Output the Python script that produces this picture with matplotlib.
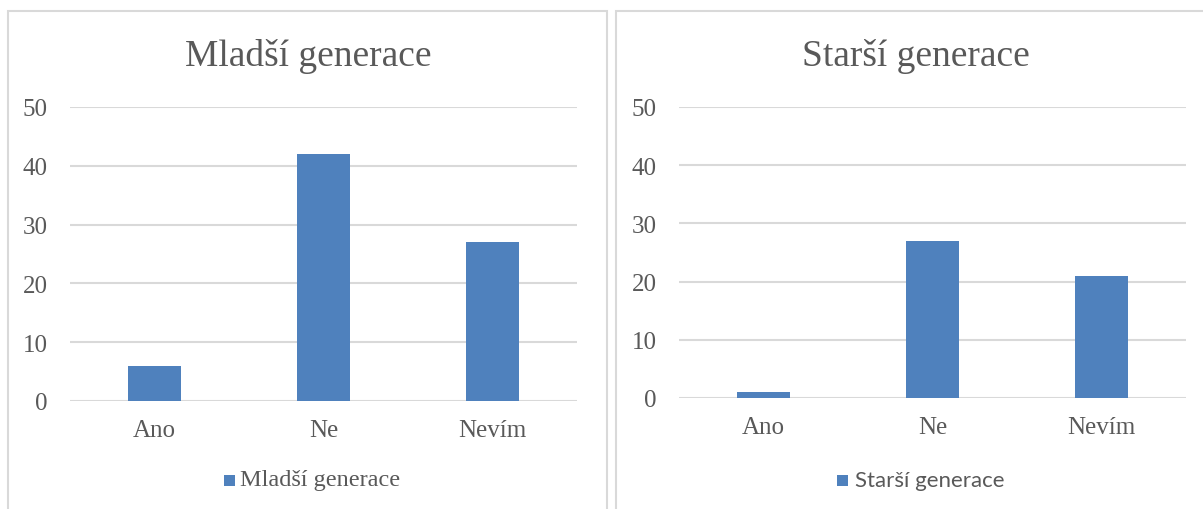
import matplotlib
matplotlib.use("Agg")
import matplotlib.pyplot as plt
from matplotlib.patches import Rectangle

plt.rcParams["font.family"] = "Liberation Serif"

categories = ["Ano", "Ne", "Nevím"]
mladsi = [6, 42, 27]
starsi = [1, 27, 21]
titles = ["Mladší generace", "Starší generace"]
y_ticks = [0, 10, 20, 30, 40, 50]

W, H = 1203, 510
BAR = "#4f81bd"
TEXT = "#595959"
GRID = "#d9d9d9"

fig = plt.figure(figsize=(W / 100, H / 100), dpi=100)
fig.patch.set_facecolor("white")


def px_axes(x0, y0, x1, y1):
    """Axes placed by pixel box (top-left origin)."""
    return fig.add_axes([x0 / W, 1 - y1 / H, (x1 - x0) / W, (y1 - y0) / H])


# panel frames
for (x0, y0, x1, y1) in [(8, 12, 607, 520), (616, 12, 1215, 520)]:
    fig.patches.append(Rectangle((x0 / W, 1 - y1 / H), (x1 - x0) / W, (y1 - y0) / H,
                                 transform=fig.transFigure, fill=False,
                                 edgecolor=GRID, linewidth=1.5))

panels = [
    dict(box=(70, 108, 577, 402), values=mladsi, title=titles[0], cx=308,
         legend_font="Liberation Serif", legend_size=17.5, lx=224, tx=240),
    dict(box=(679, 108, 1186, 399), values=starsi, title=titles[1], cx=916,
         legend_font="Lato", legend_size=16, lx=837, tx=855),
]

for p in panels:
    x0, y0, x1, y1 = p["box"]
    ax = px_axes(x0, y0, x1, y1)
    ax.bar(range(len(categories)), p["values"], width=0.31, color=BAR, zorder=3)
    ax.set_xlim(-0.5, len(categories) - 0.5)
    ax.set_ylim(0, 50)
    ax.set_yticks(y_ticks)
    ax.set_xticks(range(len(categories)))
    ax.set_xticklabels(categories)
    for s in ax.spines.values():
        s.set_visible(False)
    ax.grid(axis="y", color=GRID, linewidth=1.5, zorder=0)
    ax.tick_params(length=0, colors=TEXT, labelsize=18)
    ax.tick_params(axis="y", pad=16)
    ax.tick_params(axis="x", pad=13)
    ax.set_facecolor("none")

    fig.text(p["cx"] / W, 1 - 57 / H, p["title"], ha="center", va="center",
             fontsize=27, family="Liberation Serif", color=TEXT)

    # legend entry
    fig.patches.append(Rectangle((p["lx"] / W, 1 - 487 / H), 11 / W, 11 / H,
                                 transform=fig.transFigure, facecolor=BAR,
                                 edgecolor="none"))
    fig.text(p["tx"] / W, 1 - 481 / H, p["title"], ha="left", va="center",
             fontsize=p["legend_size"], family=p["legend_font"], color=TEXT)

fig.savefig("out.png", dpi=100, facecolor="white")
